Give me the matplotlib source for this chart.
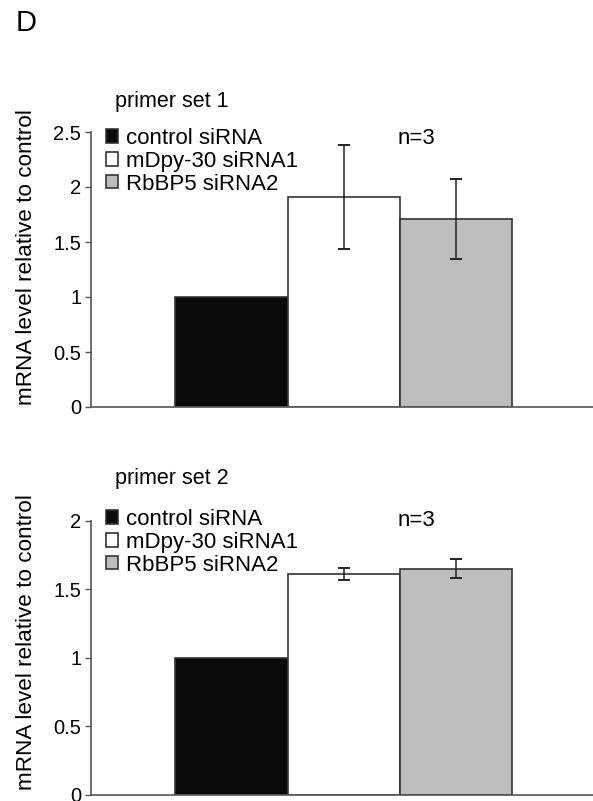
import matplotlib.pyplot as plt
import numpy as np

plt.rcParams['font.family'] = ['Liberation Sans', 'DejaVu Sans']

# Data
groups = ["control siRNA", "mDpy-30 siRNA1", "RbBP5 siRNA2"]
colors = ["#0a0a0a", "#ffffff", "#bdbdbd"]

set1_values = [1.0, 1.91, 1.71]
set1_errors = [0.0, 0.47, 0.36]

set2_values = [1.0, 1.61, 1.65]
set2_errors = [0.0, 0.043, 0.07]

set1_ticks = [0, 0.5, 1, 1.5, 2, 2.5]
set1_ticklabels = ["0", "0.5", "1", "1.5", "2", "2.5"]
set2_ticks = [0, 0.5, 1, 1.5, 2]
set2_ticklabels = ["0", "0.5", "1", "1.5", "2"]

W, H = 593, 801
fig = plt.figure(figsize=(W / 100, H / 100), dpi=100)

spine_col = "#555555"
edge_col = "#333333"


def draw_panel(rect, values, errors, ticks, ticklabels, title, title_y, legend_top, ylabel_y, n_y):
    ax = fig.add_axes(rect)
    x = np.arange(len(values))
    bars = ax.bar(x, values, width=1.0, color=colors, edgecolor=edge_col, linewidth=1.2, zorder=2)
    # error bars only for the knockdown groups
    ax.errorbar(x[1:], values[1:], yerr=errors[1:], fmt='none', ecolor="#222222",
                elinewidth=1.1, capsize=4, capthick=1.4, zorder=3)
    ax.set_xlim(-1.25, 3.22)
    ax.set_ylim(0, ticks[-1])
    ax.set_yticks(ticks)
    ax.set_yticklabels(ticklabels, fontsize=14.5)
    ax.set_xticks([])
    for s in ["top", "right"]:
        ax.spines[s].set_visible(False)
    for s in ["left", "bottom"]:
        ax.spines[s].set_color(spine_col)
        ax.spines[s].set_linewidth(1.2)
    ax.tick_params(axis='y', direction='out', length=4.5, width=1.0, color=spine_col, pad=2.5)

    ax.legend(bars, groups, loc='upper left', bbox_to_anchor=(106 / W, 1 - legend_top / H),
              bbox_transform=fig.transFigure, frameon=False, fontsize=16,
              handlelength=0.55, handleheight=0.55, handletextpad=0.35,
              labelspacing=0.08, borderpad=0, borderaxespad=0)
    fig.text(115 / W, 1 - title_y / H, title, fontsize=15.5, ha='left', va='baseline')
    fig.text(27 / W, 1 - ylabel_y / H, "mRNA level relative to control", fontsize=16.2,
             rotation=90, ha='center', va='center')
    fig.text(416 / W, 1 - n_y / H, "n=3", fontsize=16, ha='center', va='center')
    return ax


ax1 = draw_panel([91 / W, 1 - 407 / H, 1 - 91 / W, 275 / H], set1_values, set1_errors,
                 set1_ticks, set1_ticklabels, "primer set 1", 107, 128, 257, 139)

ax2 = draw_panel([91 / W, 1 - 794.5 / H, 1 - 91 / W, 273.5 / H], set2_values, set2_errors,
                 set2_ticks, set2_ticklabels, "primer set 2", 484, 509, 642, 521)

# panel letter
fig.text(26 / W, 1 - 23 / H, "D", fontsize=21, ha='center', va='center')

fig.savefig("out.png", dpi=100)
